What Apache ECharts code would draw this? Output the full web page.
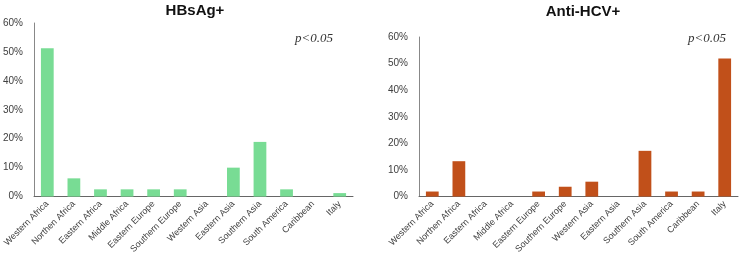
<!DOCTYPE html>
<html>
<head>
<meta charset="utf-8">
<script src="https://cdn.jsdelivr.net/npm/echarts@6/dist/echarts.min.js"></script>
<style>
  html, body { margin: 0; padding: 0; background: #fff; }
  #main { width: 740px; height: 256px; }
</style>
</head>
<body>
<div id="main"></div>
<script>
  const regions = ['Western Africa', 'Northen Africa', 'Eastern Africa', 'Middle Africa', 'Eastern Europe',
    'Southern Europe', 'Western Asia', 'Eastern Asia', 'Southern Asia', 'South America', 'Caribbean', 'Italy'];
  const hbsag = [51.3, 6.3, 2.5, 2.5, 2.5, 2.5, 0, 10, 18.9, 2.5, 0, 1.2];
  const hcv = [1.9, 13.3, 0, 0, 1.9, 3.7, 5.6, 0, 17.2, 1.9, 1.9, 51.9];
  const yTicks = [0, 10, 20, 30, 40, 50, 60];

  let chart = echarts.init(document.getElementById('main'));

  function xAxis(idx) {
    return {
      type: 'category', gridIndex: idx, data: regions,
      axisLine: { lineStyle: { color: '#666', width: 1 } },
      axisTick: { show: false },
      axisLabel: { rotate: 45, fontSize: 9, color: '#404040', fontFamily: 'Liberation Sans', margin: 6, interval: 0 }
    };
  }
  function yAxis(idx) {
    return {
      type: 'value', gridIndex: idx, min: yTicks[0], max: yTicks[yTicks.length - 1], interval: 10,
      axisLine: { show: true, lineStyle: { color: '#888' } },
      axisTick: { show: false },
      splitLine: { show: false },
      axisLabel: { formatter: '{value}%', fontSize: 10, color: '#404040', fontFamily: 'Liberation Sans', margin: 11 }
    };
  }

  chart.setOption({
    animation: false,
    title: [
      { text: 'HBsAg+', left: 190, top: -2, textAlign: 'center',
        textStyle: { fontSize: 15, fontWeight: 'bold', color: '#111', fontFamily: 'Liberation Sans' } },
      { text: 'Anti-HCV+', left: 578, top: -1, textAlign: 'center',
        textStyle: { fontSize: 15, fontWeight: 'bold', color: '#111', fontFamily: 'Liberation Sans' } },
      { text: 'p<0.05', left: 290, top: 27,
        textStyle: { fontSize: 13, fontWeight: 'normal', fontStyle: 'italic', color: '#333', fontFamily: 'Liberation Serif' } },
      { text: 'p<0.05', left: 683, top: 27,
        textStyle: { fontSize: 13, fontWeight: 'normal', fontStyle: 'italic', color: '#333', fontFamily: 'Liberation Serif' } }
    ],
    grid: [
      { left: 31, top: 23, width: 322, height: 175 },
      { left: 419, top: 37, width: 319, height: 160 }
    ],
    xAxis: [xAxis(0), xAxis(1)],
    yAxis: [yAxis(0), yAxis(1)],
    series: [
      { type: 'bar', xAxisIndex: 0, yAxisIndex: 0, data: hbsag, barWidth: '48%',
        itemStyle: { color: '#78DC94' } },
      { type: 'bar', xAxisIndex: 1, yAxisIndex: 1, data: hcv, barWidth: '48%',
        itemStyle: { color: '#C1501A' } }
    ]
  });
</script>
</body>
</html>
